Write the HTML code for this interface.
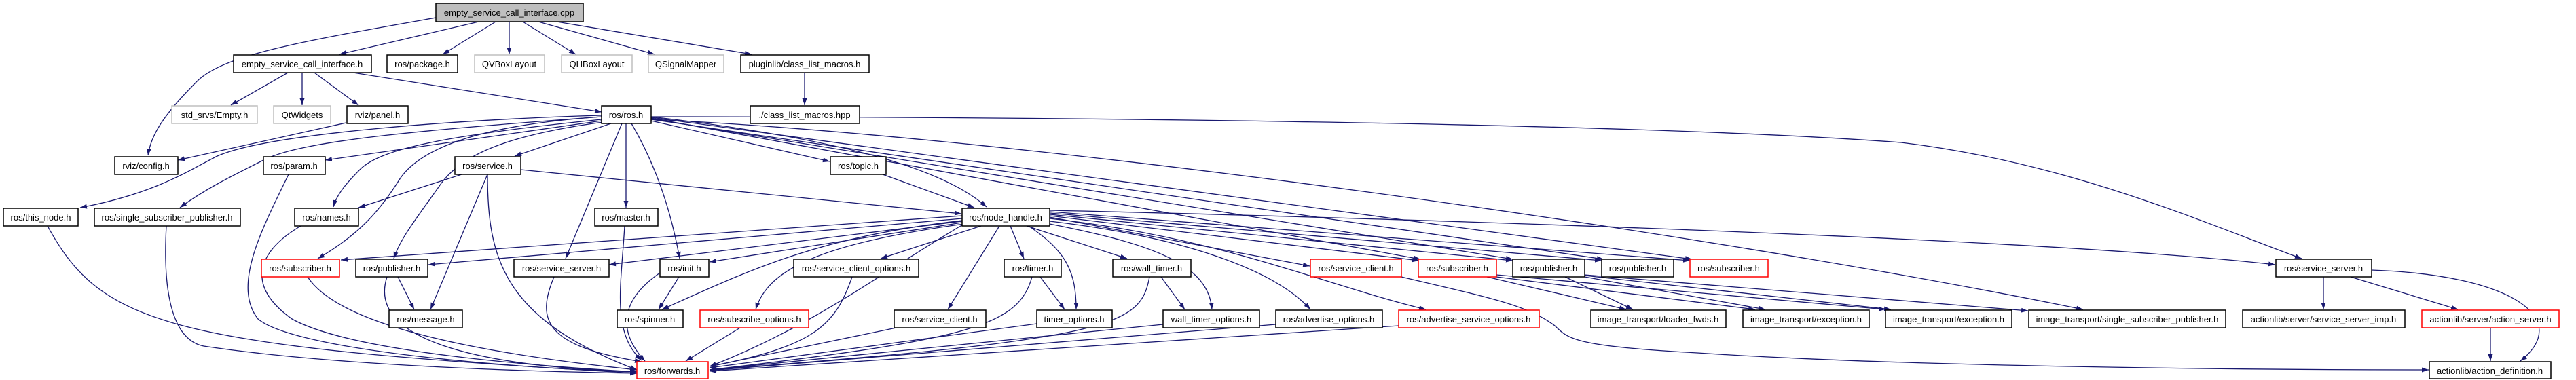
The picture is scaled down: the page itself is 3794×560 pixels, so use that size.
<!DOCTYPE html>
<html><head><meta charset="utf-8"><style>
html,body{margin:0;padding:0;background:#fff;width:3794px;height:560px;overflow:hidden}
svg{display:block}
text{font-family:"Liberation Sans",Arial,sans-serif;font-size:13px;fill:#000}
.e{fill:none;stroke:#191970;stroke-width:1.3;marker-end:url(#a)}
.n rect{fill:#fff;stroke:#000;stroke-width:1.5}
.g rect{fill:#fff;stroke:#bfbfbf;stroke-width:1.5}
.r rect{fill:#fff;stroke:#ff0000;stroke-width:1.5}
.c rect{fill:#bfbfbf;stroke:#000;stroke-width:1.5}
</style></head><body>
<svg width="3794" height="560" viewBox="0 0 3794 560" xmlns="http://www.w3.org/2000/svg">
<defs><marker id="a" markerUnits="userSpaceOnUse" markerWidth="11" markerHeight="8" refX="10" refY="3.5" orient="auto"><path d="M0,0 L10,3.5 L0,7 z" fill="#191970"/></marker></defs>
<g>
<path class="e" d="M642,26 C450,60 330,80 290,120 C240,170 222,200 218,229"/>
<path class="e" d="M705,32 L500,80"/>
<path class="e" d="M730,32 L652,80"/>
<path class="e" d="M750,32 L750,80"/>
<path class="e" d="M770,32 L848,80"/>
<path class="e" d="M793,32 L964,80"/>
<path class="e" d="M820,32 L1107,80"/>
<path class="e" d="M424,107 L340,155"/>
<path class="e" d="M445,107 L445,155"/>
<path class="e" d="M463,107 L528,155"/>
<path class="e" d="M520,107 L886,165"/>
<path class="e" d="M510,181 L262,236"/>
<path class="e" d="M1185,107 L1185,155"/>
<path class="e" d="M886,170 C700,175 400,195 320,230 C280,250 230,285 118,306"/>
<path class="e" d="M886,172 C650,190 450,205 390,235 C340,260 300,280 265,306"/>
<path class="e" d="M886,178 L479,236"/>
<path class="e" d="M886,176 C650,200 560,220 530,250 C505,275 495,290 491,305"/>
<path class="e" d="M886,172 C700,185 620,220 590,262 C560,310 530,345 468,381"/>
<path class="e" d="M888,180 C740,200 680,230 650,270 C615,320 590,350 580,381"/>
<path class="e" d="M900,182 L758,230"/>
<path class="e" d="M922,182 L922,306"/>
<path class="e" d="M916,182 L833,381"/>
<path class="e" d="M930,182 C970,250 990,320 1001,381"/>
<path class="e" d="M959,178 L1222,238"/>
<path class="e" d="M959,172 C1200,200 1380,240 1453,305"/>
<path class="e" d="M959,174 L2092,382"/>
<path class="e" d="M959,175 L2228,382"/>
<path class="e" d="M959,176 L2362,382"/>
<path class="e" d="M959,173 L2492,382"/>
<path class="e" d="M959,172 C1500,172 2400,180 2800,210 C3050,240 3250,330 3390,381"/>
<path class="e" d="M959,176 C1500,200 2500,340 3068,456"/>
<path class="e" d="M680,257 L528,306"/>
<path class="e" d="M718,257 L634,456"/>
<path class="e" d="M718,257 C718,380 740,470 938,545"/>
<path class="e" d="M767,250 L1416,315"/>
<path class="e" d="M425,257 C390,330 340,420 380,470 C440,520 800,545 938,548"/>
<path class="e" d="M70,333 C150,480 250,510 938,550"/>
<path class="e" d="M245,333 C240,420 250,500 300,510 C500,540 800,548 938,550"/>
<path class="e" d="M443,333 C380,370 360,420 430,470 C520,520 800,540 938,548"/>
<path class="e" d="M453,408 C500,480 700,520 938,545"/>
<path class="e" d="M586,408 L610,456"/>
<path class="e" d="M570,408 C540,500 700,540 938,548"/>
<path class="e" d="M920,333 C915,420 900,490 945,531"/>
<path class="e" d="M816,408 C790,470 800,510 945,533"/>
<path class="e" d="M975,400 C900,450 920,500 950,532"/>
<path class="e" d="M1420,330 C1300,400 1200,480 1045,540"/>
<path class="e" d="M1000,408 L970,456"/>
<path class="e" d="M1417,325 C1200,350 1100,400 975,456"/>
<path class="e" d="M1417,318 L502,383"/>
<path class="e" d="M1417,322 L631,390"/>
<path class="e" d="M1417,326 L897,390"/>
<path class="e" d="M1417,328 L1045,386"/>
<path class="e" d="M1420,330 C1200,360 1130,400 1113,456"/>
<path class="e" d="M1445,333 L1297,381"/>
<path class="e" d="M1488,333 L1508,381"/>
<path class="e" d="M1515,333 C1570,370 1585,400 1585,456"/>
<path class="e" d="M1512,333 L1660,381"/>
<path class="e" d="M1546,330 C1700,360 1780,390 1785,456"/>
<path class="e" d="M1472,333 L1396,456"/>
<path class="e" d="M1546,326 C1750,350 1880,400 1930,456"/>
<path class="e" d="M1546,322 C1800,350 1950,420 2100,456"/>
<path class="e" d="M1546,320 L1929,392"/>
<path class="e" d="M1546,318 L2090,384"/>
<path class="e" d="M1546,316 L2228,384"/>
<path class="e" d="M1546,314 L2359,384"/>
<path class="e" d="M1546,312 L2489,384"/>
<path class="e" d="M1546,310 C2000,320 3000,350 3351,390"/>
<path class="e" d="M1300,257 L1435,306"/>
<path class="e" d="M1532,408 L1568,456"/>
<path class="e" d="M1520,408 C1500,480 1430,500 1045,545"/>
<path class="e" d="M1255,408 C1230,480 1200,510 1045,540"/>
<path class="e" d="M1090,483 L1010,532"/>
<path class="e" d="M1320,483 L1045,540"/>
<path class="e" d="M1527,477 L1045,542"/>
<path class="e" d="M1710,408 L1745,456"/>
<path class="e" d="M1693,408 C1680,480 1640,500 1045,545"/>
<path class="e" d="M1713,478 L1045,545"/>
<path class="e" d="M1879,478 L1045,546"/>
<path class="e" d="M2060,480 L1045,547"/>
<path class="e" d="M2064,408 C2200,440 2250,450 2290,480 C2310,500 2320,510 2500,520 C2800,540 3300,545 3577,545"/>
<path class="e" d="M2190,408 L2395,456"/>
<path class="e" d="M2204,408 L2585,456"/>
<path class="e" d="M2204,405 L2777,456"/>
<path class="e" d="M2305,408 L2405,456"/>
<path class="e" d="M2334,408 L2600,456"/>
<path class="e" d="M2334,406 L2785,456"/>
<path class="e" d="M2334,405 L2987,458"/>
<path class="e" d="M3422,408 L3422,456"/>
<path class="e" d="M3462,408 L3620,456"/>
<path class="e" d="M3493,398 C3700,405 3790,470 3712,532"/>
<path class="e" d="M3668,483 L3668,532"/>
</g>
<g class="c"><rect x="642" y="5" width="217" height="27"/><text x="750" y="23" text-anchor="middle">empty_service_call_interface.cpp</text></g>
<g class="n"><rect x="344" y="81" width="203" height="26"/><text x="445" y="99" text-anchor="middle">empty_service_call_interface.h</text></g>
<g class="n"><rect x="570" y="81" width="104" height="26"/><text x="622" y="99" text-anchor="middle">ros/package.h</text></g>
<g class="g"><rect x="699" y="81" width="103" height="26"/><text x="750" y="99" text-anchor="middle">QVBoxLayout</text></g>
<g class="g"><rect x="827" y="81" width="104" height="26"/><text x="879" y="99" text-anchor="middle">QHBoxLayout</text></g>
<g class="g"><rect x="955" y="81" width="111" height="26"/><text x="1010" y="99" text-anchor="middle">QSignalMapper</text></g>
<g class="n"><rect x="1091" y="81" width="189" height="26"/><text x="1185" y="99" text-anchor="middle">pluginlib/class_list_macros.h</text></g>
<g class="g"><rect x="253" y="156" width="126" height="26"/><text x="316" y="174" text-anchor="middle">std_srvs/Empty.h</text></g>
<g class="g"><rect x="403" y="156" width="84" height="26"/><text x="445" y="174" text-anchor="middle">QtWidgets</text></g>
<g class="n"><rect x="511" y="156" width="90" height="26"/><text x="556" y="174" text-anchor="middle">rviz/panel.h</text></g>
<g class="n"><rect x="886" y="156" width="73" height="26"/><text x="922" y="174" text-anchor="middle">ros/ros.h</text></g>
<g class="n"><rect x="1105" y="156" width="161" height="26"/><text x="1185" y="174" text-anchor="middle">./class_list_macros.hpp</text></g>
<g class="n"><rect x="169" y="231" width="93" height="26"/><text x="215" y="249" text-anchor="middle">rviz/config.h</text></g>
<g class="n"><rect x="388" y="231" width="91" height="26"/><text x="433" y="249" text-anchor="middle">ros/param.h</text></g>
<g class="n"><rect x="670" y="231" width="97" height="26"/><text x="718" y="249" text-anchor="middle">ros/service.h</text></g>
<g class="n"><rect x="1223" y="231" width="82" height="26"/><text x="1264" y="249" text-anchor="middle">ros/topic.h</text></g>
<g class="n"><rect x="5" y="307" width="110" height="26"/><text x="60" y="325" text-anchor="middle">ros/this_node.h</text></g>
<g class="n"><rect x="139" y="307" width="215" height="26"/><text x="246" y="325" text-anchor="middle">ros/single_subscriber_publisher.h</text></g>
<g class="n"><rect x="434" y="307" width="94" height="26"/><text x="481" y="325" text-anchor="middle">ros/names.h</text></g>
<g class="n"><rect x="876" y="307" width="93" height="26"/><text x="922" y="325" text-anchor="middle">ros/master.h</text></g>
<g class="n"><rect x="1417" y="307" width="129" height="26"/><text x="1481" y="325" text-anchor="middle">ros/node_handle.h</text></g>
<g class="r"><rect x="385" y="382" width="115" height="26"/><text x="442" y="400" text-anchor="middle">ros/subscriber.h</text></g>
<g class="n"><rect x="524" y="382" width="106" height="26"/><text x="577" y="400" text-anchor="middle">ros/publisher.h</text></g>
<g class="n"><rect x="757" y="382" width="140" height="26"/><text x="827" y="400" text-anchor="middle">ros/service_server.h</text></g>
<g class="n"><rect x="972" y="382" width="72" height="26"/><text x="1008" y="400" text-anchor="middle">ros/init.h</text></g>
<g class="n"><rect x="1169" y="382" width="184" height="26"/><text x="1261" y="400" text-anchor="middle">ros/service_client_options.h</text></g>
<g class="n"><rect x="1479" y="382" width="84" height="26"/><text x="1521" y="400" text-anchor="middle">ros/timer.h</text></g>
<g class="n"><rect x="1639" y="382" width="115" height="26"/><text x="1696" y="400" text-anchor="middle">ros/wall_timer.h</text></g>
<g class="r"><rect x="1930" y="382" width="134" height="26"/><text x="1997" y="400" text-anchor="middle">ros/service_client.h</text></g>
<g class="r"><rect x="2089" y="382" width="115" height="26"/><text x="2146" y="400" text-anchor="middle">ros/subscriber.h</text></g>
<g class="n"><rect x="2228" y="382" width="106" height="26"/><text x="2281" y="400" text-anchor="middle">ros/publisher.h</text></g>
<g class="n"><rect x="2359" y="382" width="106" height="26"/><text x="2412" y="400" text-anchor="middle">ros/publisher.h</text></g>
<g class="r"><rect x="2489" y="382" width="115" height="26"/><text x="2546" y="400" text-anchor="middle">ros/subscriber.h</text></g>
<g class="n"><rect x="3352" y="382" width="141" height="26"/><text x="3422" y="400" text-anchor="middle">ros/service_server.h</text></g>
<g class="n"><rect x="573" y="457" width="108" height="26"/><text x="627" y="475" text-anchor="middle">ros/message.h</text></g>
<g class="n"><rect x="909" y="457" width="97" height="26"/><text x="957" y="475" text-anchor="middle">ros/spinner.h</text></g>
<g class="r"><rect x="1031" y="457" width="160" height="26"/><text x="1111" y="475" text-anchor="middle">ros/subscribe_options.h</text></g>
<g class="n"><rect x="1317" y="457" width="135" height="26"/><text x="1384" y="475" text-anchor="middle">ros/service_client.h</text></g>
<g class="n"><rect x="1527" y="457" width="111" height="26"/><text x="1582" y="475" text-anchor="middle">timer_options.h</text></g>
<g class="n"><rect x="1713" y="457" width="142" height="26"/><text x="1784" y="475" text-anchor="middle">wall_timer_options.h</text></g>
<g class="n"><rect x="1879" y="457" width="157" height="26"/><text x="1957" y="475" text-anchor="middle">ros/advertise_options.h</text></g>
<g class="r"><rect x="2060" y="457" width="207" height="26"/><text x="2163" y="475" text-anchor="middle">ros/advertise_service_options.h</text></g>
<g class="n"><rect x="2343" y="457" width="199" height="26"/><text x="2442" y="475" text-anchor="middle">image_transport/loader_fwds.h</text></g>
<g class="n"><rect x="2567" y="457" width="186" height="26"/><text x="2660" y="475" text-anchor="middle">image_transport/exception.h</text></g>
<g class="n"><rect x="2777" y="457" width="186" height="26"/><text x="2870" y="475" text-anchor="middle">image_transport/exception.h</text></g>
<g class="n"><rect x="2988" y="457" width="290" height="26"/><text x="3133" y="475" text-anchor="middle">image_transport/single_subscriber_publisher.h</text></g>
<g class="n"><rect x="3303" y="457" width="239" height="26"/><text x="3422" y="475" text-anchor="middle">actionlib/server/service_server_imp.h</text></g>
<g class="r"><rect x="3567" y="457" width="202" height="26"/><text x="3668" y="475" text-anchor="middle">actionlib/server/action_server.h</text></g>
<g class="r"><rect x="938" y="533" width="105" height="25"/><text x="990" y="551" text-anchor="middle">ros/forwards.h</text></g>
<g class="n"><rect x="3578" y="533" width="179" height="25"/><text x="3667" y="551" text-anchor="middle">actionlib/action_definition.h</text></g>
</svg>
</body></html>
